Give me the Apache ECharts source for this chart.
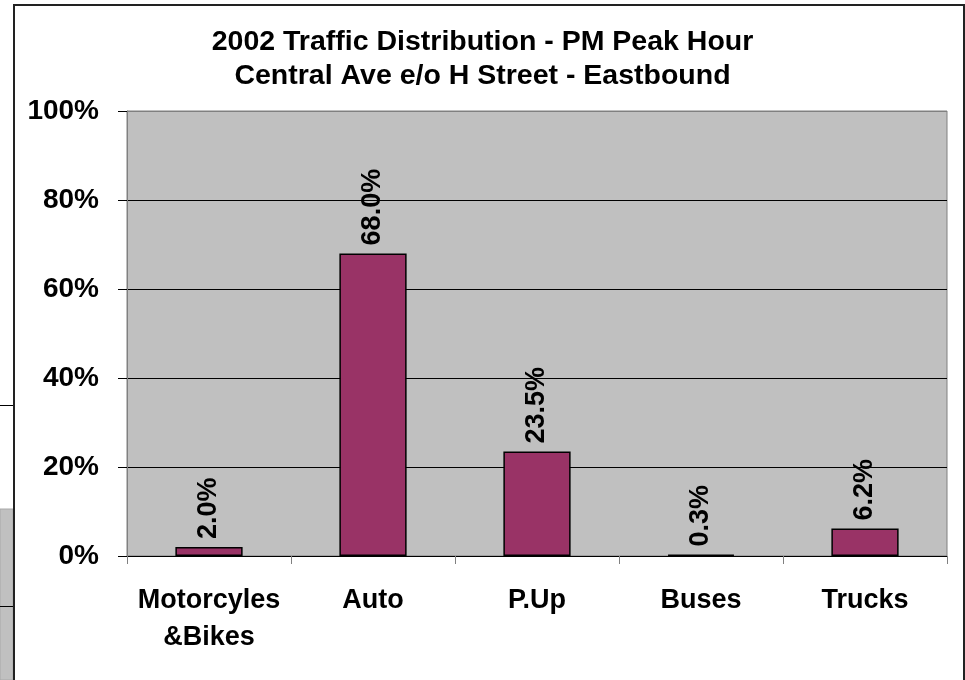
<!DOCTYPE html>
<html>
<head>
<meta charset="utf-8">
<script src="https://cdn.jsdelivr.net/npm/echarts@6/dist/echarts.min.js"></script>
<style>
  html, body { margin: 0; padding: 0; background: #fff; }
  #chart { width: 965px; height: 680px; }
</style>
</head>
<body>
<div id="chart"></div>
<script>
// data
var categories = ['Motorcyles\n&Bikes', 'Auto', 'P.Up', 'Buses', 'Trucks'];
var shares = [2.0, 68.0, 23.5, 0.3, 6.2];
var yTicks = [0, 20, 40, 60, 80, 100];

var font = 'Arial, "Liberation Sans", sans-serif';

var chart = echarts.init(document.getElementById('chart'));
chart.setOption({
  backgroundColor: '#fff',
  animation: false,
  title: {
    text: '2002 Traffic Distribution - PM Peak Hour\nCentral Ave e/o H Street - Eastbound',
    left: 'center',
    top: 20,
    padding: [5, 5, 5, 13],
    textStyle: {
      fontFamily: font,
      fontSize: 28.5,
      fontWeight: 'bold',
      color: '#000',
      lineHeight: 34
    }
  },
  grid: {
    left: 127,
    right: 18,
    top: 111,
    bottom: 124,
    show: true,
    backgroundColor: '#c0c0c0',
    borderColor: '#808080',
    borderWidth: 1
  },
  xAxis: {
    type: 'category',
    data: categories,
    axisLine: { lineStyle: { color: '#000', width: 1 } },
    axisTick: { show: true, interval: 0, length: 8, lineStyle: { color: '#808080' } },
    axisLabel: {
      interval: 0,
      margin: 26,
      fontFamily: font,
      fontSize: 27,
      fontWeight: 'bold',
      color: '#000',
      lineHeight: 37
    }
  },
  yAxis: {
    type: 'value',
    min: yTicks[0],
    max: yTicks[yTicks.length - 1],
    interval: 20,
    axisLine: { show: true, lineStyle: { color: '#808080' } },
    axisTick: { show: true, length: 9, lineStyle: { color: '#000' } },
    splitLine: {
      show: true,
      lineStyle: { color: ['#000', '#000', '#000', '#000', '#000', '#808080'], width: 1 }
    },
    axisLabel: {
      margin: 28,
      formatter: '{value}%',
      fontFamily: font,
      fontSize: 28,
      fontWeight: 'bold',
      color: '#000'
    }
  },
  series: [{
    type: 'bar',
    data: shares,
    barWidth: '41%',
    itemStyle: { color: '#993366', borderColor: '#000', borderWidth: 1.5 },
    label: {
      show: true,
      position: 'top',
      distance: 8,
      rotate: 90,
      align: 'left',
      verticalAlign: 'middle',
      formatter: function (p) { return p.value.toFixed(1) + '%'; },
      fontFamily: font,
      fontSize: 27,
      fontWeight: 'bold',
      color: '#000'
    }
  }],
  graphic: [
    // chart frame
    { type: 'rect', shape: { x: 14, y: 5, width: 950, height: 700 },
      style: { fill: 'none', stroke: '#222', lineWidth: 2 }, z: 10 },
    // bits of another sheet object peeking in on the left edge
    { type: 'line', shape: { x1: 0, y1: 405.5, x2: 13, y2: 405.5 },
      style: { stroke: '#000', lineWidth: 1 } },
    { type: 'rect', shape: { x: 0, y: 509, width: 13, height: 171 },
      style: { fill: '#c0c0c0', stroke: '#a8a8a8', lineWidth: 1 } },
    { type: 'line', shape: { x1: 0, y1: 606.5, x2: 13, y2: 606.5 },
      style: { stroke: '#000', lineWidth: 1 } }
  ]
});
</script>
</body>
</html>
